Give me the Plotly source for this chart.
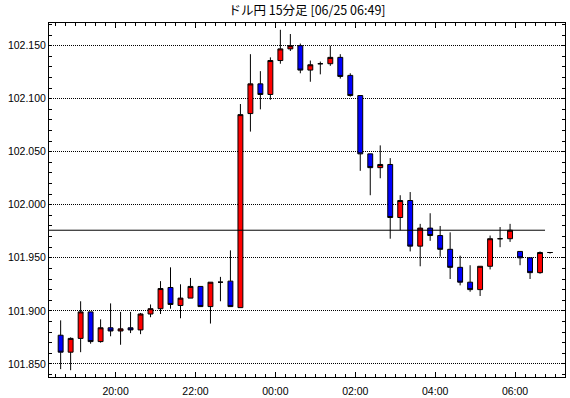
import plotly.graph_objects as go

# 15-minute bar start times (USD/JPY)
times = [
    "2014-06-24 18:30", "2014-06-24 18:45", "2014-06-24 19:00", "2014-06-24 19:15",
    "2014-06-24 19:30", "2014-06-24 19:45", "2014-06-24 20:00", "2014-06-24 20:15",
    "2014-06-24 20:30", "2014-06-24 20:45", "2014-06-24 21:00", "2014-06-24 21:15",
    "2014-06-24 21:30", "2014-06-24 21:45", "2014-06-24 22:00", "2014-06-24 22:15",
    "2014-06-24 22:30", "2014-06-24 22:45", "2014-06-24 23:00", "2014-06-24 23:15",
    "2014-06-24 23:30", "2014-06-24 23:45", "2014-06-25 00:00", "2014-06-25 00:15",
    "2014-06-25 00:30", "2014-06-25 00:45", "2014-06-25 01:00", "2014-06-25 01:15",
    "2014-06-25 01:30", "2014-06-25 01:45", "2014-06-25 02:00", "2014-06-25 02:15",
    "2014-06-25 02:30", "2014-06-25 02:45", "2014-06-25 03:00", "2014-06-25 03:15",
    "2014-06-25 03:30", "2014-06-25 03:45", "2014-06-25 04:00", "2014-06-25 04:15",
    "2014-06-25 04:30", "2014-06-25 04:45", "2014-06-25 05:00", "2014-06-25 05:15",
    "2014-06-25 05:30", "2014-06-25 05:45", "2014-06-25 06:00", "2014-06-25 06:15",
    "2014-06-25 06:30", "2014-06-25 06:45",
]

opens = [
    101.877, 101.861, 101.874, 101.899, 101.871, 101.884, 101.881, 101.884, 101.882, 101.897,
    101.902, 101.922, 101.905, 101.912, 101.923, 101.904, 101.927, 101.928, 101.903, 102.086,
    102.114, 102.104, 102.136, 102.147, 102.150, 102.127, 102.133, 102.133, 102.139, 102.122,
    102.103, 102.048, 102.035, 102.038, 101.988, 102.004, 101.961, 101.978, 101.971, 101.958,
    101.941, 101.927, 101.920, 101.942, 101.968, 101.968, 101.956, 101.950, 101.936, 101.955,
]
highs = [
    101.891, 101.875, 101.909, 101.899, 101.892, 101.907, 101.899, 101.899, 101.898, 101.906,
    101.928, 101.941, 101.925, 101.931, 101.923, 101.927, 101.932, 101.957, 102.095, 102.142,
    102.126, 102.139, 102.165, 102.161, 102.152, 102.136, 102.135, 102.150, 102.142, 102.124,
    102.103, 102.048, 102.056, 102.044, 102.009, 102.012, 101.982, 101.992, 101.980, 101.974,
    101.952, 101.943, 101.942, 101.971, 101.979, 101.982, 101.956, 101.950, 101.956, 101.955,
]
lows = [
    101.845, 101.844, 101.861, 101.869, 101.870, 101.876, 101.868, 101.879, 101.878, 101.894,
    101.897, 101.902, 101.893, 101.912, 101.904, 101.888, 101.909, 101.904, 101.903, 102.069,
    102.090, 102.099, 102.133, 102.145, 102.124, 102.116, 102.123, 102.131, 102.119, 102.102,
    102.032, 102.009, 102.025, 101.968, 101.976, 101.956, 101.942, 101.966, 101.951, 101.930,
    101.924, 101.918, 101.914, 101.939, 101.960, 101.965, 101.943, 101.930, 101.935, 101.954,
]
closes = [
    101.861, 101.874, 101.899, 101.871, 101.884, 101.881, 101.883, 101.882, 101.897, 101.902,
    101.921, 101.906, 101.912, 101.923, 101.904, 101.927, 101.927, 101.904, 102.085, 102.114,
    102.104, 102.136, 102.147, 102.150, 102.127, 102.132, 102.133, 102.139, 102.121, 102.103,
    102.048, 102.035, 102.038, 101.988, 102.004, 101.961, 101.978, 101.971, 101.958, 101.941,
    101.927, 101.920, 101.942, 101.968, 101.968, 101.976, 101.950, 101.936, 101.955, 101.955,
]

ref_level = 101.976          # horizontal reference line
ref_line_end = "2014-06-25 06:45"

x_range = ["2014-06-24 18:20", "2014-06-25 07:15"]
y_range = [101.8376, 102.1714]

title_text = "ドル円 15分足 [06/25 06:49]"

fig = go.Figure()
fig.add_trace(go.Candlestick(
    x=times, open=opens, high=highs, low=lows, close=closes,
    xperiod=900000, xperiodalignment="middle",
    increasing=dict(fillcolor="#FF0000", line=dict(color="black", width=1)),
    decreasing=dict(fillcolor="#0000FF", line=dict(color="black", width=1)),
    whiskerwidth=0, hoverinfo="skip", showlegend=False,
))

fig.add_shape(type="line", xref="x", yref="y",
              x0=x_range[0], x1=ref_line_end, y0=ref_level, y1=ref_level,
              line=dict(color="black", width=1))

tick_font = dict(family="Liberation Sans", size=10.5, color="black")

fig.update_layout(
    width=570, height=398,
    autosize=False,
    margin=dict(l=49, r=5, t=23, b=21, autoexpand=False),
    paper_bgcolor="white", plot_bgcolor="white",
    boxgap=0.3,
    title=dict(text=title_text, x=(49 + 565) / 2 / 570, xanchor="center",
               y=1 - 11 / 398, yanchor="middle",
               font=dict(family="Noto Sans CJK JP", size=12.5, color="black")),
    xaxis=dict(
        type="date", range=x_range, rangeslider=dict(visible=False),
        automargin=False,
        showline=True, linecolor="black", linewidth=1, mirror="allticks",
        ticks="inside", ticklen=5, tickcolor="black", tickwidth=1,
        tick0="2014-06-24 20:00", dtick=7200000, tickformat="%H:%M",
        ticklabelstandoff=4,
        showgrid=False, zeroline=False, tickfont=tick_font,
        minor=dict(ticks="inside", ticklen=3, tickcolor="black", dtick=900000,
                   tick0="2014-06-24 20:00", showgrid=False),
    ),
    yaxis=dict(
        range=y_range, automargin=False,
        showline=True, linecolor="black", linewidth=1, mirror="allticks",
        ticks="inside", ticklen=3, tickcolor="black", tickwidth=1,
        tick0=101.85, dtick=0.05, tickformat=".3f",
        showgrid=True, gridcolor="black", gridwidth=1, griddash="1px,1px",
        zeroline=False, tickfont=tick_font,
        minor=dict(ticks="inside", ticklen=3, tickcolor="black", dtick=0.01,
                   tick0=101.85, showgrid=False),
    ),
)

fig.write_html(
    "out.html",
    config={"displayModeBar": False, "staticPlot": True},
    post_script="document.body.style.margin='0';document.body.style.overflow='hidden';",
)
